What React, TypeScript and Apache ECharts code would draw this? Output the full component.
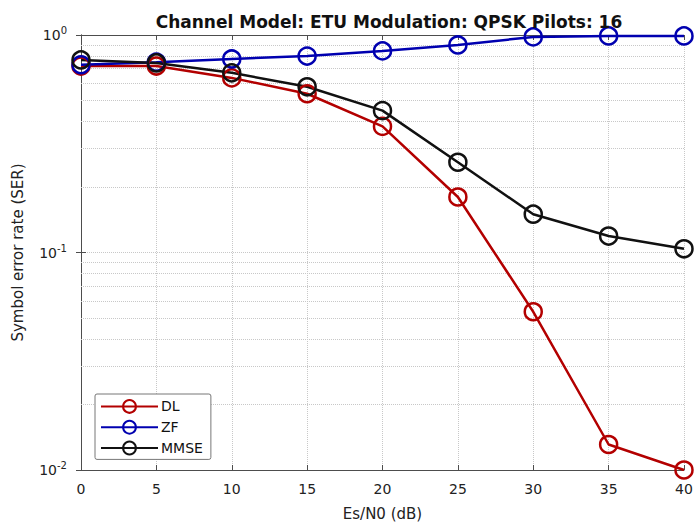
import React, { useEffect, useRef } from "react";
import * as echarts from "echarts";

const snr = [0, 5, 10, 15, 20, 25, 30, 35, 40];
const dlSer = [0.72, 0.72, 0.635, 0.537, 0.38, 0.18, 0.0534, 0.0131, 0.01];
const zfSer = [0.73, 0.75, 0.776, 0.8, 0.845, 0.9, 0.98, 0.99, 0.99];
const mmseSer = [0.768, 0.744, 0.67, 0.578, 0.449, 0.26, 0.15, 0.119, 0.104];
const minorGrid = [0.02, 0.03, 0.04, 0.05, 0.06, 0.07, 0.08, 0.09, 0.2, 0.3, 0.4, 0.5, 0.6, 0.7, 0.8, 0.9];
const titleText = "Channel Model: ETU Modulation: QPSK Pilots: 16";

const font = "DejaVu Sans, Liberation Sans, Arial, sans-serif";
const axisColor = "#4d4d4d";
const gridColor = "#c8c8c8";

function mkSeries(name: string, values: number[], color: string, extra: any = {}) {
  return {
    name,
    type: "line",
    data: snr.map((x, i) => [x, values[i]]),
    symbol: "circle",
    symbolSize: 17,
    lineStyle: { color, width: 2.5 },
    itemStyle: { color: "rgba(255,255,255,0)", borderColor: color, borderWidth: 2.5 },
    emphasis: { disabled: true },
    z: 3,
    ...extra,
  };
}

export default function App() {
  const ref = useRef<HTMLDivElement>(null);
  useEffect(() => {
    if (!ref.current) return;
    const chart = echarts.init(ref.current, undefined, { renderer: "svg" });
    const yLabel = (v: number) => {
      const e = Math.round(Math.log10(v));
      return `{b|10}{s|${e}}`;
    };
    chart.setOption({
      animation: false,
      backgroundColor: "#fff",
      textStyle: { fontFamily: font },
      title: {
        text: titleText,
        left: 384,
        textAlign: "center",
        top: 8,
        textStyle: { fontSize: 17, fontWeight: "bold", color: "#111", fontFamily: font },
      },
      grid: { left: 81, right: 13, top: 35, bottom: 54 },
      legend: {
        orient: "vertical",
        left: 95,
        top: 394,
        itemWidth: 57,
        itemHeight: 16,
        itemGap: 6,
        padding: [5, 8, 4, 5],
        borderColor: "#777",
        borderWidth: 1,
        borderRadius: 2,
        backgroundColor: "#fff",
        textStyle: { fontSize: 14, color: "#111", fontFamily: font, padding: [0, 0, 0, -2] },
        data: ["DL", "ZF", "MMSE"],
      },
      xAxis: [
        {
          type: "value",
          min: 0,
          max: 40,
          interval: 5,
          name: "Es/N0 (dB)",
          nameLocation: "middle",
          nameGap: 36,
          nameTextStyle: { fontSize: 15, color: "#222", fontFamily: font },
          axisLine: { lineStyle: { color: axisColor, width: 1 } },
          axisTick: { inside: true, length: 5, lineStyle: { color: axisColor } },
          axisLabel: { fontSize: 14, color: "#222", margin: 12, fontFamily: font },
          splitLine: { show: true, lineStyle: { color: gridColor, type: "dotted", width: 1 } },
        },
        {
          type: "value",
          position: "top",
          min: 0,
          max: 40,
          interval: 5,
          axisLine: { show: true, lineStyle: { color: axisColor, width: 1 } },
          axisTick: { show: true, inside: true, length: 5, lineStyle: { color: axisColor } },
          axisLabel: { show: false },
          splitLine: { show: false },
        },
      ],
      yAxis: [
        {
          type: "log",
          logBase: 10,
          min: 0.01,
          max: 1,
          interval: 1,
          name: "Symbol error rate (SER)",
          nameLocation: "middle",
          nameGap: 56,
          nameTextStyle: { fontSize: 15, color: "#222", fontFamily: font },
          axisLine: { show: true, lineStyle: { color: axisColor, width: 1 } },
          axisTick: { show: true, inside: true, length: 5, lineStyle: { color: axisColor } },
          axisLabel: {
            formatter: yLabel,
            margin: 14,
            rich: {
              b: { fontSize: 14, color: "#222", fontFamily: font },
              s: { fontSize: 10, color: "#222", fontFamily: font, padding: [0, 0, 9, 0] },
            },
          },
          splitLine: { show: true, lineStyle: { color: gridColor, type: "dotted", width: 1 } },
        },
        {
          type: "log",
          logBase: 10,
          min: 0.01,
          max: 1,
          interval: 1,
          position: "right",
          axisLine: { show: true, lineStyle: { color: axisColor, width: 1 } },
          axisTick: { show: true, inside: true, length: 5, lineStyle: { color: axisColor } },
          axisLabel: { show: false },
          splitLine: { show: false },
        },
      ],
      series: [
        mkSeries("DL", dlSer, "#b30000", {
          markLine: {
            silent: true,
            symbol: ["none", "none"],
            label: { show: false },
            lineStyle: { color: gridColor, type: "dotted", width: 1 },
            emphasis: { disabled: true },
            data: minorGrid.map((v) => ({ yAxis: v })),
            z: 1,
          },
        }),
        mkSeries("ZF", zfSer, "#0000b0"),
        mkSeries("MMSE", mmseSer, "#111111"),
      ],
    });
    return () => chart.dispose();
  }, []);
  return <div ref={ref} style={{ width: 697, height: 526, position: "absolute", left: 0, top: 0 }} />;
}
